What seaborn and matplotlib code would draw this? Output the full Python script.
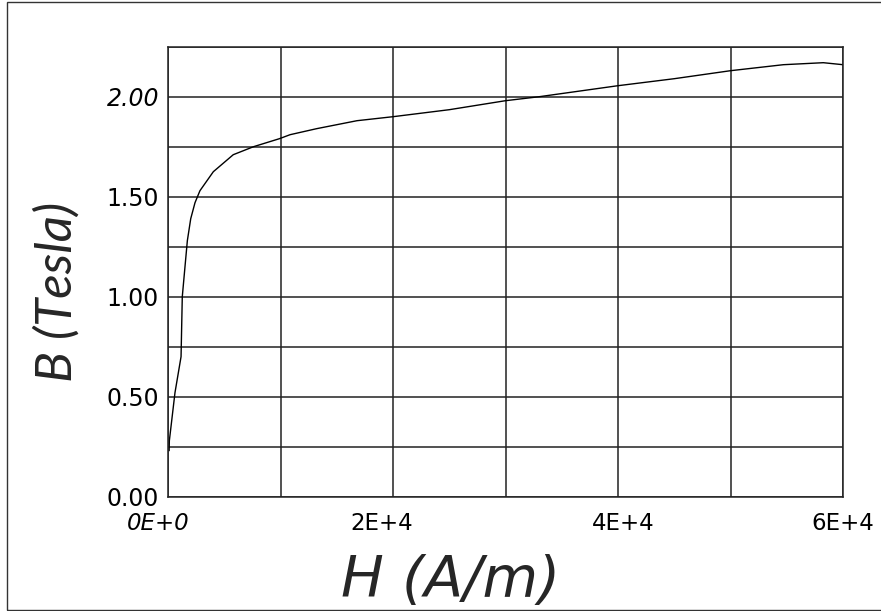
import matplotlib
matplotlib.use("Agg")
import matplotlib.pyplot as plt
import matplotlib.transforms as mtransforms
from matplotlib.patches import Rectangle
import seaborn as sns
import pandas as pd
import numpy as np

# Data (B-H magnetisation curve)
H_values = [100, 120, 620, 1160, 1270, 1510, 1720, 2020, 2400, 2840, 4030, 5800,
            7600, 9900, 10850, 13200, 16800, 20000, 25000, 30000, 33000, 40000,
            45000, 50000, 54700, 58250, 60000]
B_values = [0.23, 0.28, 0.52, 0.70, 1.00, 1.15, 1.28, 1.39, 1.47, 1.53, 1.625, 1.71,
            1.75, 1.79, 1.81, 1.84, 1.88, 1.90, 1.935, 1.98, 2.00, 2.055,
            2.09, 2.13, 2.16, 2.17, 2.16]
x_ticks = [0, 20000, 40000, 60000]
x_tick_labels = ["0E+0", "2E+4", "4E+4", "6E+4"]
y_ticks = [0.0, 0.5, 1.0, 1.5, 2.0]
y_tick_labels = ["0.00", "0.50", "1.00", "1.50", "2.00"]
x_label = "H (A/m)"
y_label = "B (Tesla)"

df = pd.DataFrame({"H": H_values, "B": B_values})

sns.set_style("white")
plt.rcParams["font.family"] = ["DejaVu Sans"]

fig = plt.figure(figsize=(8.81, 6.11), dpi=100)
ax = fig.add_axes([168 / 881, 1 - 496.7 / 611, (843 - 168) / 881, (496.7 - 46.7) / 611])

sns.lineplot(data=df, x="H", y="B", ax=ax, color="black", linewidth=1.0,
             estimator=None, sort=True)

ax.set_xlim(0, 60000)
ax.set_ylim(0, 2.25)

ax.set_xticks(x_ticks)
ax.set_xticks(np.arange(0, 60001, 10000), minor=True)
ax.set_yticks(y_ticks)
ax.set_yticks(np.arange(0, 2.26, 0.25), minor=True)
ax.grid(True, which="both", color="#222222", linewidth=1.1)
ax.set_axisbelow(True)
ax.tick_params(which="both", length=0)
ax.tick_params(axis="x", pad=11)
ax.tick_params(axis="y", pad=6.5)

ax.set_xticklabels(x_tick_labels, fontsize=16.5, color="black")
ax.set_yticklabels(y_tick_labels, fontsize=17, color="black")

xl = ax.get_xticklabels()
xl[0].set_fontstyle("italic")
x_offsets_px = [-10, -11, 5, 0]
for lab, off in zip(xl, x_offsets_px):
    lab.set_transform(lab.get_transform() +
                      mtransforms.ScaledTranslation(off / 100, 0, fig.dpi_scale_trans))
yl = ax.get_yticklabels()
yl[-1].set_fontstyle("italic")

for s in ax.spines.values():
    s.set_color("#222222")
    s.set_linewidth(1.1)

ax.set_xlabel(x_label, fontsize=41, fontstyle="italic", family=["DejaVu Sans"])
ax.xaxis.set_label_coords((451 - 168) / 675, (496.7 - 554) / 450)
ax.set_ylabel(y_label, fontsize=37, fontstyle="italic", family=["Lato", "DejaVu Sans"])
ax.yaxis.set_label_coords((81 - 168) / 675, (496.7 - 292) / 450)

# outer frame of the original picture
fig.patches.append(Rectangle((7 / 881, 1 / 611), 1.05, 1 - 2.5 / 611,
                             transform=fig.transFigure, fill=False,
                             edgecolor="#333333", linewidth=1.0, clip_on=False))

fig.savefig("out.png", dpi=100)
